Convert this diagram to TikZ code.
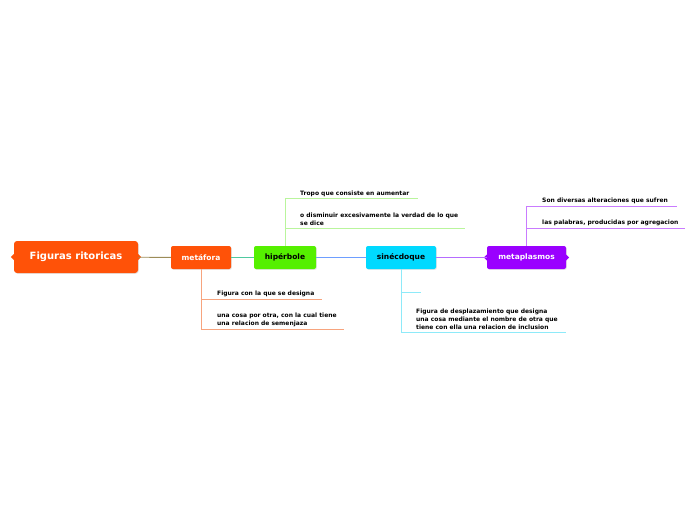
\documentclass[tikz,border=0pt]{standalone}
\usepackage{fontspec}
\setmainfont{DejaVu Sans}
\usetikzlibrary{positioning, shadows}
\definecolor{naranja}{HTML}{FF5208}
\definecolor{verde}{HTML}{55F000}
\definecolor{celeste}{HTML}{00D9FF}
\definecolor{morado}{HTML}{9A00FF}
\definecolor{linNaranja}{HTML}{F7A47E}
\definecolor{linVerde}{HTML}{B9F59C}
\definecolor{linCeleste}{HTML}{8EEAF9}
\definecolor{linMorado}{HTML}{C97BFF}
\definecolor{conOliva}{HTML}{9C8C58}
\definecolor{conTeal}{HTML}{4FC9A0}
\definecolor{conAzul}{HTML}{6E9EFF}
\definecolor{conMorado}{HTML}{B56CFF}

\begin{document}
\begin{tikzpicture}[x=1pt, y=-1pt,
  rootbox/.style={fill=naranja, rounded corners=3pt, text=white, font=\fontsize{10}{12}\selectfont\bfseries,
    minimum width=124pt, minimum height=32pt, inner sep=0pt, drop shadow={opacity=0.2, shadow xshift=0.8pt, shadow yshift=-0.8pt}},
  topic/.style={rounded corners=2pt, font=\fontsize{7.5}{9}\selectfont\bfseries, minimum height=23pt, inner sep=0pt,
    drop shadow={opacity=0.2, shadow xshift=0.8pt, shadow yshift=-0.8pt}},
  note/.style={anchor=south west, font=\fontsize{6}{8}\selectfont\bfseries, align=left, inner sep=0pt},
  branch/.style={line width=0.9pt}]

  \useasboundingbox (0,0) rectangle (696,520);

  \node [rootbox] (root) at (76,257) {Figuras ritoricas};
  \node [topic, fill=naranja, text=white, minimum width=60pt] (metafora) at (201,257.5) {metáfora};
  \node [topic, fill=verde, minimum width=62pt] (hiperbole) at (285,257.5) {hipérbole};
  \node [topic, fill=celeste, minimum width=70pt] (sinecdoque) at (401,257.5) {sinécdoque};
  \node [topic, fill=morado, text=white, minimum width=79pt] (metaplasmos) at (526.5,257.5) {metaplasmos};

  \fill [naranja] (root.west) ++(0,-3) -- ++(-3,3) -- ++(3,3) -- cycle;
  \fill [naranja] (root.east) ++(0,-3) -- ++(3,3) -- ++(-3,3) -- cycle;
  \fill [morado] (metaplasmos.west) ++(0,-3) -- ++(-3,3) -- ++(3,3) -- cycle;
  \fill [morado] (metaplasmos.east) ++(0,-3) -- ++(3,3) -- ++(-3,3) -- cycle;

  \node [note] (hipA) at (300,196.5) {Tropo que consiste en aumentar};
  \node [note] (hipB) at (300,226) {o disminuir excesivamente la verdad de lo que\\se dice};
  \node [note] (metA) at (217,297) {Figura con la que se designa};
  \node [note] (metB) at (217,327) {una cosa por otra, con la cual tiene\\una relacion de semenjaza};
  \node [note] (sinA) at (416,330) {Figura de desplazamiento que designa\\una cosa mediante el nombre de otra que\\tiene con ella una relacion de inclusion};
  \node [note] (mplA) at (542,204) {Son diversas alteraciones que sufren};
  \node [note] (mplB) at (542,226) {las palabras, producidas por agregacion};

  \coordinate (hipAend) at (418,198.5);
  \coordinate (hipBend) at (465,228);
  \coordinate (metAend) at (322,299.5);
  \coordinate (metBend) at (344,329);
  \coordinate (sinVacio) at (421,292);
  \coordinate (sinAend) at (566,332);
  \coordinate (mplAend) at (677,206);
  \coordinate (mplBend) at (685,228);

  \draw [branch, conOliva] (root) -- (metafora);
  \draw [branch, conTeal] (metafora) -- (hiperbole);
  \draw [branch, conAzul] (hiperbole) -- (sinecdoque);
  \draw [branch, conMorado] (sinecdoque) -- (metaplasmos);

  \draw [branch, linVerde] (hiperbole) |- (hipAend);
  \draw [branch, linVerde] (hiperbole) |- (hipBend);
  \draw [branch, linNaranja] (metafora) |- (metAend);
  \draw [branch, linNaranja] (metafora) |- (metBend);
  \draw [branch, linCeleste] (sinecdoque) |- (sinVacio);
  \draw [branch, linCeleste] (sinecdoque) |- (sinAend);
  \draw [branch, linMorado] (metaplasmos) |- (mplAend);
  \draw [branch, linMorado] (metaplasmos) |- (mplBend);
\end{tikzpicture}
\end{document}
